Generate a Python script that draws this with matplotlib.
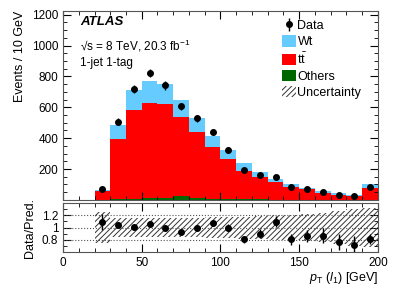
import numpy as np
import matplotlib
matplotlib.use('Agg')
import matplotlib.pyplot as plt
from matplotlib.patches import Patch
from matplotlib.ticker import MultipleLocator

bin_edges = [20, 30, 40, 50, 60, 70, 80, 90, 100, 110, 120, 130, 140, 150, 160, 170, 180, 190, 200]

data = [71, 508, 720, 822, 742, 606, 530, 440, 325, 195, 162, 149, 82, 69, 50, 33, 23, 86]
others = [0, 5, 8, 12, 12, 25, 12, 6, 5, 4, 3, 2, 2, 2, 1, 1, 1, 2]
ttbar = [56, 391, 576, 616, 609, 512, 428, 334, 261, 186, 144, 113, 80, 67, 46, 33, 23, 78]
wt = [9, 89, 130, 145, 130, 112, 92, 71, 59, 52, 33, 21, 20, 11, 11, 9, 8, 26]
rel_unc = [0.26, 0.16, 0.16, 0.16, 0.16, 0.16, 0.16, 0.17, 0.17, 0.18, 0.19, 0.2,
           0.21, 0.22, 0.24, 0.27, 0.3, 0.32]

c_wt = '#66ccff'
c_tt = '#ff0000'
c_oth = '#006600'

plt.rcParams['font.family'] = ['Liberation Sans', 'DejaVu Sans']
plt.rcParams['mathtext.fontset'] = 'custom'
plt.rcParams['mathtext.rm'] = 'Liberation Sans'
plt.rcParams['mathtext.it'] = 'Liberation Sans:italic'
plt.rcParams['hatch.linewidth'] = 0.7


def root_ticks(ax):
    ax.tick_params(which='both', direction='in', top=True, right=True, labelsize=8.5)
    ax.tick_params(which='major', length=6)
    ax.tick_params(which='minor', length=3)
    for s in ax.spines.values():
        s.set_color('#555555')


def main():
    edges = np.array(bin_edges)
    lo = edges[:-1]
    w = np.diff(edges)
    centers = lo + w / 2
    d = np.array(data, dtype=float)
    oth = np.array(others, dtype=float)
    tt = np.array(ttbar, dtype=float)
    st = np.array(wt, dtype=float)
    total = oth + tt + st

    fig = plt.figure(figsize=(3.99, 2.86), dpi=100)
    ax = fig.add_axes([0.158, 0.301, 0.789, 0.661])
    rax = fig.add_axes([0.158, 0.119, 0.789, 0.171], sharex=ax)

    # stack
    ax.bar(lo, oth, width=w, align='edge', color=c_oth, linewidth=0)
    ax.bar(lo, tt, width=w, bottom=oth, align='edge', color=c_tt, linewidth=0)
    ax.bar(lo, st, width=w, bottom=oth + tt, align='edge', color=c_wt, linewidth=0)
    ax.errorbar(centers, d, yerr=np.sqrt(d), fmt='o', color='k', markersize=4,
                elinewidth=1, capsize=0, zorder=10)

    ax.set_xlim(0, 200)
    ax.set_ylim(0, 1225)
    ax.set_yticks([200, 400, 600, 800, 1000, 1200])
    ax.yaxis.set_minor_locator(MultipleLocator(50))
    ax.xaxis.set_major_locator(MultipleLocator(50))
    ax.xaxis.set_minor_locator(MultipleLocator(10))
    root_ticks(ax)
    ax.tick_params(labelbottom=False)
    ax.set_ylabel('Events / 10 GeV', fontsize=9, loc='top')

    ax.text(0.054, 0.94, 'ATLAS', transform=ax.transAxes, fontsize=9.5,
            fontweight='bold', style='italic', va='center')
    ax.text(0.054, 0.815, '\u221as = 8 TeV, 20.3 fb$^{-1}$', transform=ax.transAxes,
            fontsize=8.5, va='center')
    ax.text(0.054, 0.725, '1-jet 1-tag', transform=ax.transAxes, fontsize=8.5, va='center')

    handles = [
        ax.errorbar([], [], yerr=[], fmt='o', color='k', markersize=4, elinewidth=1),
        Patch(facecolor=c_wt, edgecolor='none'),
        Patch(facecolor=c_tt, edgecolor='none'),
        Patch(facecolor=c_oth, edgecolor='none'),
        Patch(facecolor='none', edgecolor='#333333', hatch='//////', linewidth=0),
    ]
    labels = ['Data', 'Wt', r'$\mathrm{t\bar{t}}$', 'Others', 'Uncertainty']
    ax.legend(handles, labels, loc='upper left', bbox_to_anchor=(0.695, 0.955),
              frameon=False, fontsize=9, handlelength=1.1, handleheight=1.0,
              handletextpad=0.15, labelspacing=0.25, borderaxespad=0, borderpad=0)

    # ratio panel
    for v in [0.8, 1.0, 1.2]:
        rax.axhline(v, color='#555555', linestyle=':', linewidth=0.8)
    unc = np.array(rel_unc)
    rax.bar(lo, 2 * unc, width=w, bottom=1 - unc, align='edge', facecolor='none',
            edgecolor='#333333', hatch='//////', linewidth=0)
    ratio = d / total
    rax.errorbar(centers, ratio, yerr=np.sqrt(d) / total, fmt='o', color='k',
                 markersize=4, elinewidth=1, capsize=0, zorder=10)
    rax.set_ylim(0.6, 1.4)
    rax.set_yticks([0.8, 1.0, 1.2])
    rax.set_yticklabels(['0.8', '1', '1.2'])
    rax.yaxis.set_minor_locator(MultipleLocator(0.1))
    root_ticks(rax)
    rax.set_ylabel('Data/Pred.', fontsize=9)
    rax.set_xlabel(r'$p_{\mathrm{T}}$ $(l_1)$ [GeV]', fontsize=9, loc='right', labelpad=1)

    fig.align_ylabels([ax, rax])
    plt.savefig('out.png', dpi=100)


if __name__ == '__main__':
    main()
